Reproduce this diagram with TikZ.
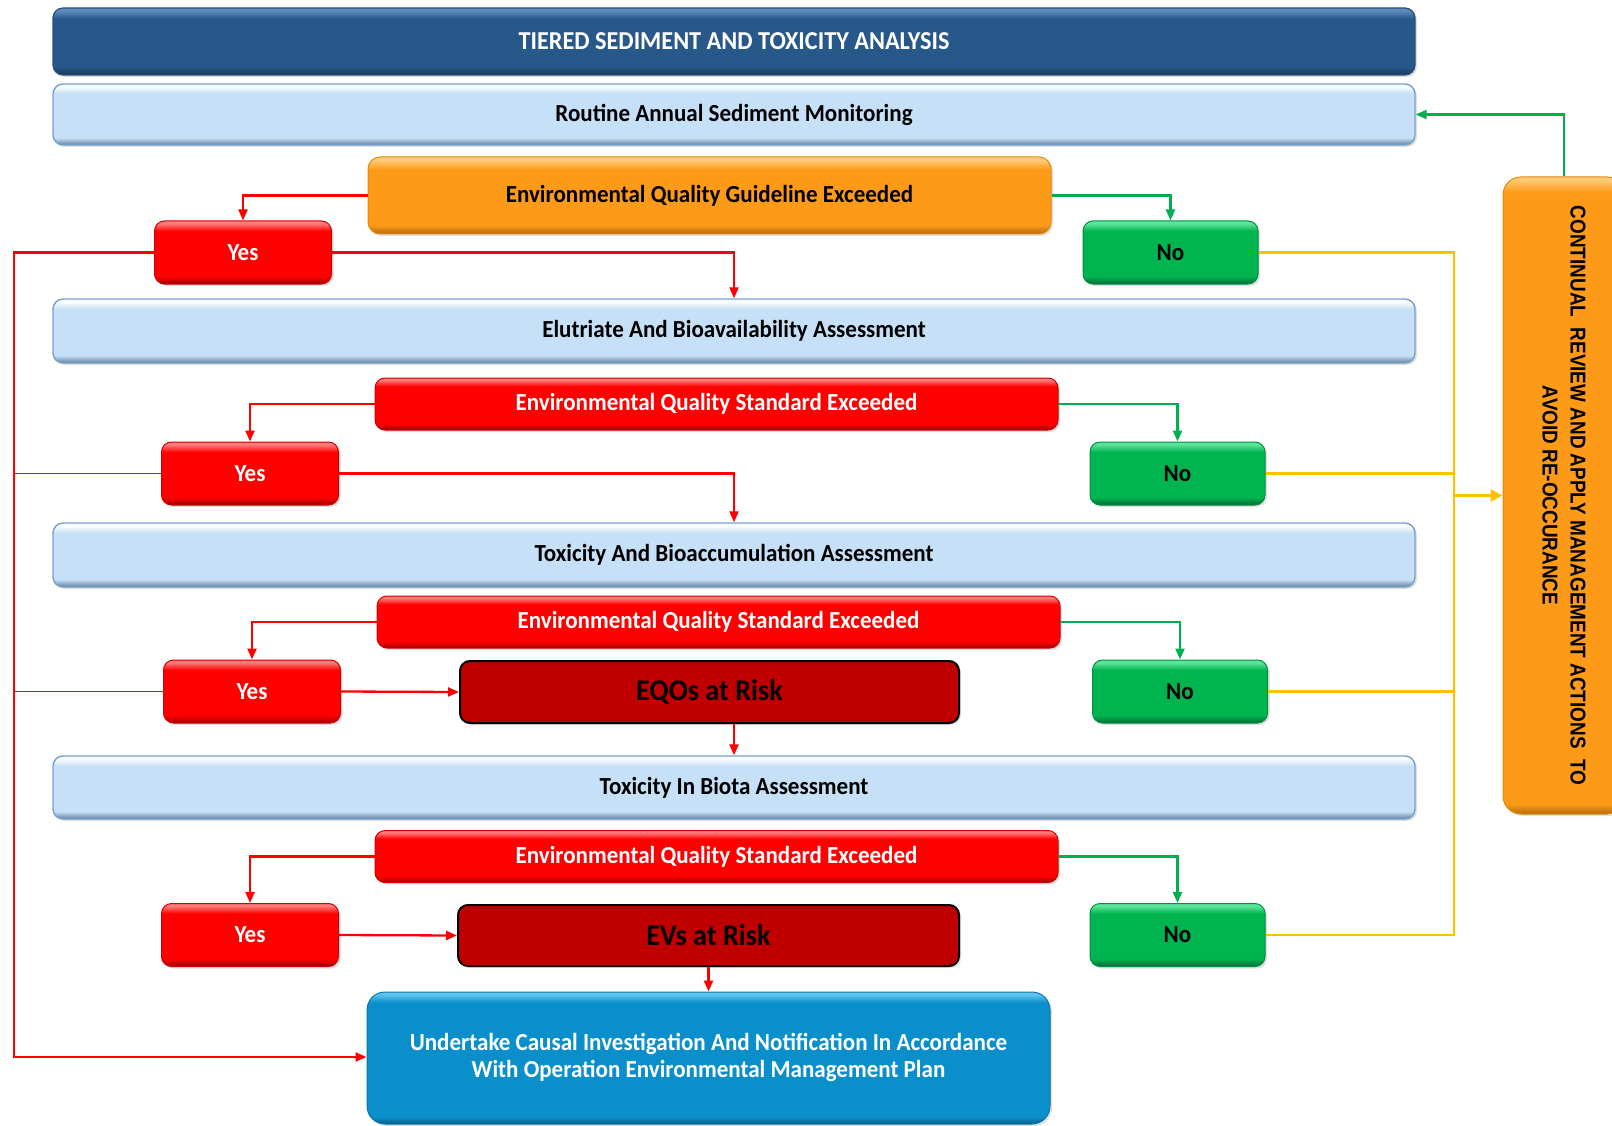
\documentclass[tikz,border=0pt]{standalone}
\usepackage{fontspec}
\setmainfont{Carlito}[FakeStretch=0.94]
\newfontfamily\contfont{Liberation Sans}[FakeStretch=0.88]
\usetikzlibrary{arrows.meta,shadows,calc}

\definecolor{lbB}{HTML}{C5E0F7}\definecolor{lbL}{HTML}{FAFDFF}\definecolor{lbD}{HTML}{64809F}\definecolor{lbE}{HTML}{76A0CC}
\definecolor{tiB}{HTML}{28588A}\definecolor{tiL}{HTML}{5D8BBE}\definecolor{tiD}{HTML}{163658}\definecolor{tiE}{HTML}{2A4F7A}
\definecolor{orB}{HTML}{FD9B19}\definecolor{orL}{HTML}{FFCB78}\definecolor{orD}{HTML}{B56C0E}\definecolor{orE}{HTML}{E08A10}
\definecolor{rdB}{HTML}{FF0000}\definecolor{rdL}{HTML}{FF7A7A}\definecolor{rdD}{HTML}{960000}\definecolor{rdE}{HTML}{D00000}
\definecolor{gnB}{HTML}{00B44F}\definecolor{gnL}{HTML}{5CE49A}\definecolor{gnD}{HTML}{006A34}\definecolor{gnE}{HTML}{009040}
\definecolor{blB}{HTML}{0A8FCB}\definecolor{blL}{HTML}{5EC4EE}\definecolor{blD}{HTML}{055A84}\definecolor{blE}{HTML}{0A75A8}
\definecolor{dkR}{HTML}{C00000}
\definecolor{lnR}{HTML}{FF0000}\definecolor{lnG}{HTML}{00B050}\definecolor{lnY}{HTML}{FFC000}

\newcommand\mkshade[4]{\pgfdeclareverticalshading{#1}{100bp}{color(0bp)=(#4); color(25bp)=(#4); color(31bp)=(#3); color(67bp)=(#3); color(73bp)=(#2); color(75bp)=(#2); color(100bp)=(#2)}}
\mkshade{shLB}{lbL}{lbB}{lbD}
\mkshade{shTI}{tiL}{tiB}{tiD}
\mkshade{shOR}{orL}{orB}{orD}
\mkshade{shRD}{rdL}{rdB}{rdD}
\mkshade{shGN}{gnL}{gnB}{gnD}
\pgfdeclareverticalshading{shBL}{100bp}{color(0bp)=(blD); color(25bp)=(blD); color(27.5bp)=(blB); color(71bp)=(blB); color(74bp)=(blL); color(100bp)=(blL)}
\pgfdeclareverticalshading{shCO}{100bp}{color(0bp)=(orD); color(25bp)=(orD); color(25.8bp)=(orB); color(73.8bp)=(orB); color(74.8bp)=(orL); color(100bp)=(orL)}

\tikzset{
  box/.style={rounded corners=10pt, inner sep=0pt, align=center,
    font=\bfseries\fontsize{24.5}{29}\selectfont,
    drop shadow={opacity=0.25, shadow xshift=2pt, shadow yshift=-2pt}},
  bar/.style={box, minimum width=1362pt, shade, shading=shLB, draw=lbE, line width=1.4pt, text=black},
  titlebox/.style={box, minimum width=1362pt, minimum height=67pt, shade, shading=shTI, draw=tiE, line width=1.2pt, text=white, font=\bfseries\fontsize{25.8}{30}\selectfont},
  orbox/.style={box, rounded corners=12pt, shade, shading=shOR, draw=orE, line width=1pt, text=black},
  rdbox/.style={box, shade, shading=shRD, draw=rdE, line width=1pt, text=white},
  gnbox/.style={box, shade, shading=shGN, draw=gnE, line width=1pt, text=black},
  riskbox/.style={box, fill=dkR, draw=black, line width=2pt, text=black, font=\bfseries\fontsize{30}{34}\selectfont},
  blbox/.style={box, rounded corners=18pt, shade, shading=shBL, draw=blE, line width=1pt, text=white},
  yesbox/.style={rdbox, minimum width=177pt, minimum height=63pt},
  nobox/.style={gnbox, minimum width=175pt, minimum height=63pt},
  eqsbox/.style={rdbox, minimum width=683pt, minimum height=52pt},
  tip/.style={-{Triangle[length=11pt,width=9pt]}},
  rline/.style={draw=lnR, line width=2.3pt},
  rthin/.style={draw=lnR, line width=1.2pt},
  gline/.style={draw=lnG, line width=2.3pt},
  yline/.style={draw=lnY, line width=2.3pt},
}

\begin{document}
\begin{tikzpicture}[x=1pt,y=-1pt]
\useasboundingbox (0,0) rectangle (1612,1126);
\clip (0,0) rectangle (1612,1126);

% main column
\node[titlebox] (title) at (734,41.5) {TIERED SEDIMENT AND TOXICITY ANALYSIS};
\node[bar, minimum height=61pt] (routine) at (734,114.5) {Routine Annual Sediment Monitoring};
\node[orbox, minimum width=683pt, minimum height=77pt] (eqg) at (709.5,195.5) {Environmental Quality Guideline Exceeded};
\node[yesbox] (yes1) at (243,252.5) {Yes};
\node[nobox] (no1) at (1170.5,252.5) {No};
\node[bar, minimum height=64pt] (elut) at (734,331) {Elutriate And Bioavailability Assessment};
\node[eqsbox] (eqs1) at (716.5,404) {Environmental Quality Standard Exceeded};
\node[yesbox] (yes2) at (250,473.5) {Yes};
\node[nobox] (no2) at (1177.5,473.5) {No};
\node[bar, minimum height=64pt] (tox) at (734,555) {Toxicity And Bioaccumulation Assessment};
\node[eqsbox] (eqs2) at (718.5,622) {Environmental Quality Standard Exceeded};
\node[yesbox] (yes3) at (252,691.5) {Yes};
\node[riskbox, minimum width=499pt, minimum height=62pt] (eqos) at (709.5,692) {EQOs at Risk};
\node[nobox] (no3) at (1180,691.5) {No};
\node[bar, minimum height=63pt] (biota) at (734,787.5) {Toxicity In Biota Assessment};
\node[eqsbox] (eqs3) at (716.5,856.5) {Environmental Quality Standard Exceeded};
\node[yesbox] (yes4) at (250,935) {Yes};
\node[riskbox, minimum width=501pt, minimum height=61pt] (evs) at (708.5,935.5) {EVs at Risk};
\node[nobox] (no4) at (1177.5,935) {No};
\node[blbox, minimum width=683pt, minimum height=132pt, font=\bfseries\fontsize{24.5}{28.5}\selectfont] (under) at (708.5,1058)
  {\raisebox{-3pt}{\begin{tabular}{@{}c@{}}Undertake Causal Investigation And Notification In Accordance\\[-1.5pt]With Operation Environmental Management Plan\end{tabular}}};

% right box
\node[box, rounded corners=18pt, shade, shading=shCO, draw=orE, line width=1pt, minimum width=122pt, minimum height=637pt] (cont) at (1564,495.5) {};
\node[rotate=-90, align=center, font=\contfont\bfseries\fontsize{21.5}{28}\selectfont, text=black] (conttxt) at (cont.center)
  {CONTINUAL\ \ REVIEW AND APPLY MANAGEMENT ACTIONS\ \ TO\\AVOID RE-OCCURANCE};

% helper coordinates
\coordinate (tk) at (14,1057);
\coordinate (ya) at (1454,252.5);
\coordinate (yz) at (1454,935);

% red connectors
\draw[rline, tip] (eqg.west) -| (yes1.north);
\draw[rline, tip] (yes1.east) -| (elut.north);
\draw[rline, tip] (yes1.west) -| (tk) -- (under.west |- tk);
\draw[rline, tip] (eqs1.west) -| (yes2.north);
\draw[rthin] (yes2.west) -- (yes2.west -| tk);
\draw[rline, tip] (yes2.east) -| (tox.north);
\draw[rline, tip] (eqs2.west) -| (yes3.north);
\draw[rthin] (yes3.west) -- (yes3.west -| tk);
\draw[rline, tip] (yes3.east) -- (eqos.west);
\draw[rline, tip] (eqos.south -| biota.north) -- (biota.north);
\draw[rline, tip] (eqs3.west) -| (yes4.north);
\draw[rline, tip] (yes4.east) -- (evs.west);
\draw[rline, tip] (evs.south) -- (under.north);

% green connectors
\draw[gline, tip] (eqg.east) -| (no1.north);
\draw[gline, tip] (eqs1.east) -| (no2.north);
\draw[gline, tip] (eqs2.east) -| (no3.north);
\draw[gline, tip] (eqs3.east) -| (no4.north);
\draw[gline, tip] (cont.north) |- (routine.east);

% yellow connectors
\draw[yline] (no1.east) -- (ya) -- (yz) -- (no4.east);
\draw[yline] (no2.east) -- (no2.east -| ya);
\draw[yline] (no3.east) -- (no3.east -| ya);
\draw[draw=lnY, line width=3pt, -{Triangle[length=12pt,width=12pt]}] (cont.west -| ya) -- (cont.west);
\end{tikzpicture}
\end{document}
